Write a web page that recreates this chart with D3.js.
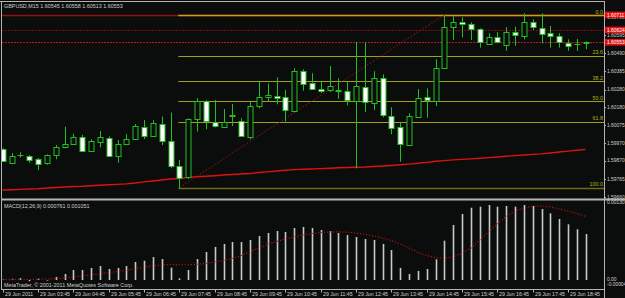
<!DOCTYPE html>
<html>
<head>
<meta charset="utf-8">
<script src="https://cdn.jsdelivr.net/npm/d3@7"></script>
<style>
  body { margin: 0; background: #0b0d0d; }
  svg { display: block; font-family: "Liberation Sans", Arial, sans-serif; }
</style>
</head>
<body>
<svg id="chart" width="625" height="298"></svg>
<script>
// GBPUSD M15, 29 Jun 2011, 67 bars from 02:45
var opens = [1.59935,1.59860,1.59898,1.59898,1.59878,1.59852,1.59898,1.59947,1.59964,1.60006,
  1.59926,1.59979,1.60002,1.59897,1.59964,1.59993,1.60066,1.60012,1.60083,1.59983,
  1.59839,1.59774,1.60108,1.60212,1.60093,1.60068,1.60131,1.60097,1.60008,1.60181,
  1.60235,1.60245,1.60235,1.60158,1.60389,1.60316,1.60283,1.60274,1.60272,1.60274,
  1.60216,1.60293,1.60199,1.60345,1.60129,1.60062,1.59960,1.60126,1.60235,1.60216,
  1.60403,1.60640,1.60672,1.60659,1.60628,1.60547,1.60582,1.60537,1.60611,1.60585,
  1.60668,1.60637,1.60605,1.60589,1.60551,1.60541,1.60545]
var highs = [1.59943,1.59914,1.59918,1.59902,1.59885,1.59906,1.59960,1.60066,1.60025,1.60018,
  1.59993,1.60041,1.60010,1.59989,1.60022,1.60081,1.60104,1.60103,1.60124,1.60147,
  1.59874,1.60113,1.60230,1.60220,1.60220,1.60168,1.60197,1.60114,1.60210,1.60330,
  1.60316,1.60351,1.60278,1.60403,1.60397,1.60374,1.60331,1.60416,1.60345,1.60326,
  1.60555,1.60549,1.60386,1.60368,1.60178,1.60093,1.60143,1.60283,1.60287,1.60455,
  1.60712,1.60707,1.60697,1.60668,1.60634,1.60605,1.60611,1.60640,1.60643,1.60720,
  1.60686,1.60720,1.60647,1.60605,1.60570,1.60572,1.60558]
var lows = [1.59862,1.59850,1.59887,1.59858,1.59816,1.59846,1.59878,1.59941,1.59960,1.59920,
  1.59920,1.59947,1.59893,1.59858,1.59960,1.59989,1.59995,1.60008,1.59960,1.59826,
  1.59712,1.59764,1.60037,1.60051,1.60062,1.60062,1.60070,1.60008,1.59993,1.60172,
  1.60210,1.60195,1.60095,1.60152,1.60274,1.60278,1.60259,1.60266,1.60226,1.60189,
  1.59825,1.60151,1.60162,1.60120,1.60022,1.59864,1.59954,1.60120,1.60118,1.60185,
  1.60402,1.60566,1.60582,1.60566,1.60522,1.60537,1.60547,1.60504,1.60533,1.60570,
  1.60624,1.60547,1.60522,1.60522,1.60504,1.60503,1.60513]
var closes = [1.59864,1.59898,1.59900,1.59875,1.59852,1.59901,1.59947,1.59964,1.60006,1.59926,
  1.59982,1.60006,1.59898,1.59964,1.59993,1.60068,1.60012,1.60085,1.59985,1.59841,
  1.59771,1.60108,1.60212,1.60095,1.60068,1.60095,1.60134,1.60012,1.60185,1.60235,
  1.60247,1.60233,1.60158,1.60389,1.60316,1.60283,1.60274,1.60299,1.60276,1.60220,
  1.60302,1.60208,1.60345,1.60129,1.60062,1.59964,1.60126,1.60233,1.60216,1.60405,
  1.60640,1.60668,1.60659,1.60628,1.60553,1.60585,1.60553,1.60611,1.60595,1.60668,
  1.60640,1.60605,1.60589,1.60553,1.60533,1.60543,1.60553]
var maValues = [1.59700,1.59702,1.59704,1.59706,1.59708,1.59712,1.59715,1.59718,1.59721,1.59722,
  1.59725,1.59728,1.59731,1.59733,1.59736,1.59741,1.59747,1.59752,1.59758,1.59764,
  1.59767,1.59773,1.59777,1.59780,1.59783,1.59787,1.59790,1.59793,1.59796,1.59801,
  1.59805,1.59810,1.59814,1.59818,1.59820,1.59822,1.59824,1.59826,1.59829,1.59830,
  1.59832,1.59833,1.59836,1.59839,1.59842,1.59846,1.59850,1.59855,1.59860,1.59866,
  1.59870,1.59874,1.59877,1.59880,1.59884,1.59887,1.59891,1.59895,1.59899,1.59902,
  1.59906,1.59909,1.59914,1.59920,1.59925,1.59930,1.59935]
var macdMain = [0.00001,0.00002,0.00003,-0.00002,0.00002,-0.00001,0.00005,0.00010,0.000165,0.000165,
  0.000199,0.000232,0.000182,0.000199,0.000232,0.000298,0.000319,0.00038,0.000347,0.000203,
  0.000028,0.000165,0.000347,0.000463,0.000546,0.000596,0.000629,0.000629,0.000662,0.000728,
  0.000778,0.000811,0.000794,0.00086,0.000877,0.00086,0.000827,0.000811,0.000778,0.000744,
  0.000711,0.000678,0.000662,0.000596,0.000496,0.0002,0.0001,0.00015,0.000182,0.000342,
  0.00065,0.00091,0.001092,0.001196,0.001213,0.001241,0.001213,0.001224,0.001213,0.001241,
  0.001224,0.001175,0.001103,0.001009,0.000921,0.000839,0.000761]
var macdSignal = [0.000005,0.000007,0.000008,0.00001,0.000013,0.000017,0.000022,0.000033,0.00005,0.000066,
  0.000083,0.000104,0.000124,0.000141,0.000162,0.000187,0.00021,0.000232,0.000248,0.000256,
  0.000253,0.000251,0.000261,0.000273,0.000298,0.000323,0.000356,0.000405,0.000468,0.000529,
  0.000587,0.000637,0.000678,0.000716,0.000744,0.000769,0.000786,0.000794,0.000797,0.000791,
  0.000778,0.000756,0.000728,0.000695,0.000653,0.000596,0.000529,0.000455,0.000405,0.000369,
  0.000359,0.000385,0.000442,0.000524,0.000662,0.000794,0.000926,0.00105,0.001141,0.001191,
  0.001221,0.001224,0.001208,0.001175,0.001141,0.0011,0.001051]

var timeLabels = ["29 Jun 2011","29 Jun 03:45","29 Jun 04:45","29 Jun 05:45","29 Jun 06:45",
  "29 Jun 07:45","29 Jun 08:45","29 Jun 09:45","29 Jun 10:45","29 Jun 11:45","29 Jun 12:45",
  "29 Jun 13:45","29 Jun 14:45","29 Jun 15:45","29 Jun 16:45","29 Jun 17:45","29 Jun 18:45"]
var priceTicks = [1.60700,1.60595,1.60490,1.60385,1.60280,1.60180,1.60075,1.59970,1.59870,1.59765,1.59660]
var macdTicks = ["0.00130", "0.00", "-0.00004"]
var macdTickValues = [0.00128, 0.000015, -0.00007]

var fibLevels = [0, 23.6, 38.2, 50, 61.8, 100]
var fibNames = ["0.0", "23.6", "38.2", "50.0", "61.8", "100.0"]
var fibLow = 1.59714, fibHigh = 1.60712, fibFrom = 20, fibTo = 50
var hLines = [1.60711, 1.60624, 1.60553]
var hLineNames = ["1.60711", "1.60624", "1.60553"]

var svg = d3.select("#chart")
var plotRight = 604

var x = d3.scaleLinear().domain([0, opens.length - 1]).range([2.7, 585.7])
var y = d3.scaleLinear().domain([1.59660, 1.60595]).range([197, 35])
var ym = d3.scaleLinear().domain([0, 0.000761]).range([280, 234])
var px = i => Math.round(x(i)) + 0.5

var green = "#20c020"

svg.append("rect").attr("width", 625).attr("height", 298).attr("fill", "#0b0d0d")

svg.append("clipPath").attr("id", "mainClip")
  .append("rect").attr("x", 2).attr("y", 2).attr("width", plotRight - 2).attr("height", 196)
svg.append("clipPath").attr("id", "macdClip")
  .append("rect").attr("x", 2).attr("y", 201).attr("width", plotRight - 2).attr("height", 87)

var main = svg.append("g").attr("clip-path", "url(#mainClip)")

// user lines
var hColors = ["#8c1414", "#7a0c0c", "#c01818"]
main.selectAll(".hline").data(hLines).enter().append("line")
  .attr("x1", 2).attr("x2", plotRight)
  .attr("y1", d => Math.round(y(d)) + 0.5).attr("y2", d => Math.round(y(d)) + 0.5)
  .attr("stroke", (d, i) => hColors[i])
  .attr("stroke-width", (d, i) => i == 0 ? 1.5 : 1.2)
  .attr("stroke-dasharray", (d, i) => i == 0 ? null : "2,1")

// fibo
var fibPrice = l => fibHigh - (fibHigh - fibLow) * l / 100
main.selectAll(".fib").data(fibLevels).enter().append("line")
  .attr("x1", x(fibFrom) - 1).attr("x2", plotRight)
  .attr("y1", d => Math.round(y(fibPrice(d))) + 0.5).attr("y2", d => Math.round(y(fibPrice(d))) + 0.5)
  .attr("stroke", d => d == 100 ? "#6c6c14" : (d == 0 ? "#c8a010" : "#a0a01c"))
  .attr("stroke-width", d => d == 100 || d == 0 ? 1.6 : 1)
main.selectAll(".fibtext").data(fibLevels).enter().append("text")
  .attr("x", plotRight - 1).attr("y", d => y(fibPrice(d)) - 1.2)
  .attr("text-anchor", "end").attr("font-size", "5.4px").attr("fill", "#b4b41c")
  .text((d, i) => fibNames[i])
main.append("line")
  .attr("x1", x(fibFrom)).attr("y1", y(fibLow)).attr("x2", x(fibTo)).attr("y2", y(fibHigh))
  .attr("stroke", "#a01414").attr("stroke-width", 1).attr("stroke-dasharray", "1.5,2")

// moving average
main.append("path").datum(maValues)
  .attr("d", d3.line().x((d, i) => x(i)).y(d => y(d)))
  .attr("fill", "none").attr("stroke", "#e01010").attr("stroke-width", 1.4)

// candles
var idx = d3.range(opens.length)
main.selectAll(".wick").data(idx).enter().append("line")
  .attr("x1", px).attr("x2", px)
  .attr("y1", i => y(highs[i])).attr("y2", i => y(lows[i]))
  .attr("stroke", green).attr("stroke-width", 1)
main.selectAll(".body").data(idx).enter().append("rect")
  .attr("x", i => px(i) - 2.5)
  .attr("y", i => Math.round(y(Math.max(opens[i], closes[i]))) + 0.5)
  .attr("width", 5)
  .attr("height", i => Math.max(0.01, Math.round(y(Math.min(opens[i], closes[i])) - y(Math.max(opens[i], closes[i])))))
  .attr("fill", i => closes[i] < opens[i] ? "#ffffff" : "#0b0d0d")
  .attr("stroke", green).attr("stroke-width", 1)

// MACD window
var macd = svg.append("g").attr("clip-path", "url(#macdClip)")
macd.selectAll(".hist").data(idx).enter().append("rect")
  .attr("x", i => px(i) - 0.8)
  .attr("y", i => Math.min(ym(macdMain[i]), ym(0)))
  .attr("width", 1.6)
  .attr("height", i => Math.abs(ym(macdMain[i]) - ym(0)))
  .attr("fill", "#c8c8c8")
macd.append("path").datum(macdSignal)
  .attr("d", d3.line().x((d, i) => x(i)).y(d => ym(d)))
  .attr("fill", "none").attr("stroke", "#c01010").attr("stroke-width", 1.1).attr("stroke-dasharray", "1.2,1.8")

// frames
var gray = "#b4b4b4"
svg.append("line").attr("x1", 0).attr("x2", plotRight).attr("y1", 1.5).attr("y2", 1.5).attr("stroke", gray)
svg.append("line").attr("x1", 1.5).attr("x2", 1.5).attr("y1", 1).attr("y2", 289.5).attr("stroke", gray)
svg.append("line").attr("x1", plotRight + 0.5).attr("x2", plotRight + 0.5).attr("y1", 1).attr("y2", 298).attr("stroke", gray)
svg.append("rect").attr("x", 1).attr("y", 198.5).attr("width", 624).attr("height", 2).attr("fill", gray)
svg.append("line").attr("x1", 1).attr("x2", plotRight).attr("y1", 289.5).attr("y2", 289.5).attr("stroke", gray)

// price axis
var labelColor = "#cfcfcf"
var axisFont = "4.9px"
var axisG = svg.append("g")
axisG.selectAll(".pt").data(priceTicks).enter().append("line")
  .attr("x1", plotRight).attr("x2", plotRight + 2)
  .attr("y1", d => Math.round(y(d)) + 0.5).attr("y2", d => Math.round(y(d)) + 0.5)
  .attr("stroke", gray)
axisG.selectAll(".pl").data(priceTicks).enter().append("text")
  .attr("x", plotRight + 3).attr("y", d => y(d) + 1.8)
  .attr("font-size", axisFont).attr("fill", labelColor)
  .text(d => d.toFixed(5))

var red = axisG.selectAll(".rl").data(hLines).enter().append("g")
red.append("rect").attr("x", plotRight + 1).attr("y", d => y(d) - 3.3)
  .attr("width", 20).attr("height", 6.6).attr("fill", "#e01010")
red.append("text").attr("x", plotRight + 3).attr("y", d => y(d) + 1.8)
  .attr("font-size", axisFont).attr("fill", "#ffffff")
  .text((d, i) => hLineNames[i])

// macd axis
axisG.selectAll(".ml").data(macdTickValues).enter().append("text")
  .attr("x", plotRight + 3).attr("y", d => ym(d) + 1.8)
  .attr("font-size", axisFont).attr("fill", labelColor)
  .text((d, i) => macdTicks[i])

// time axis
var timeG = svg.append("g")
timeG.selectAll(".tt").data(timeLabels).enter().append("line")
  .attr("x1", (d, i) => px(i * 4)).attr("x2", (d, i) => px(i * 4))
  .attr("y1", 289.5).attr("y2", 292.5).attr("stroke", gray)
timeG.selectAll(".tl").data(timeLabels).enter().append("text")
  .attr("x", (d, i) => px(i * 4) + 1.5).attr("y", 296.3)
  .attr("font-size", "5.2px").attr("fill", labelColor)
  .text(d => d)

// captions
svg.append("text").attr("x", 4).attr("y", 7.5).attr("font-size", "5.4px").attr("fill", labelColor)
  .text("GBPUSD,M15  1.60545 1.60558 1.60513 1.60553")
svg.append("text").attr("x", 4).attr("y", 207.5).attr("font-size", "5.4px").attr("fill", labelColor)
  .text("MACD(12,26,9) 0.000761 0.001051")
svg.append("text").attr("x", 4).attr("y", 286.5).attr("font-size", "5.4px").attr("fill", labelColor)
  .text("MetaTrader, © 2001-2011 MetaQuotes Software Corp.")
</script>
</body>
</html>
